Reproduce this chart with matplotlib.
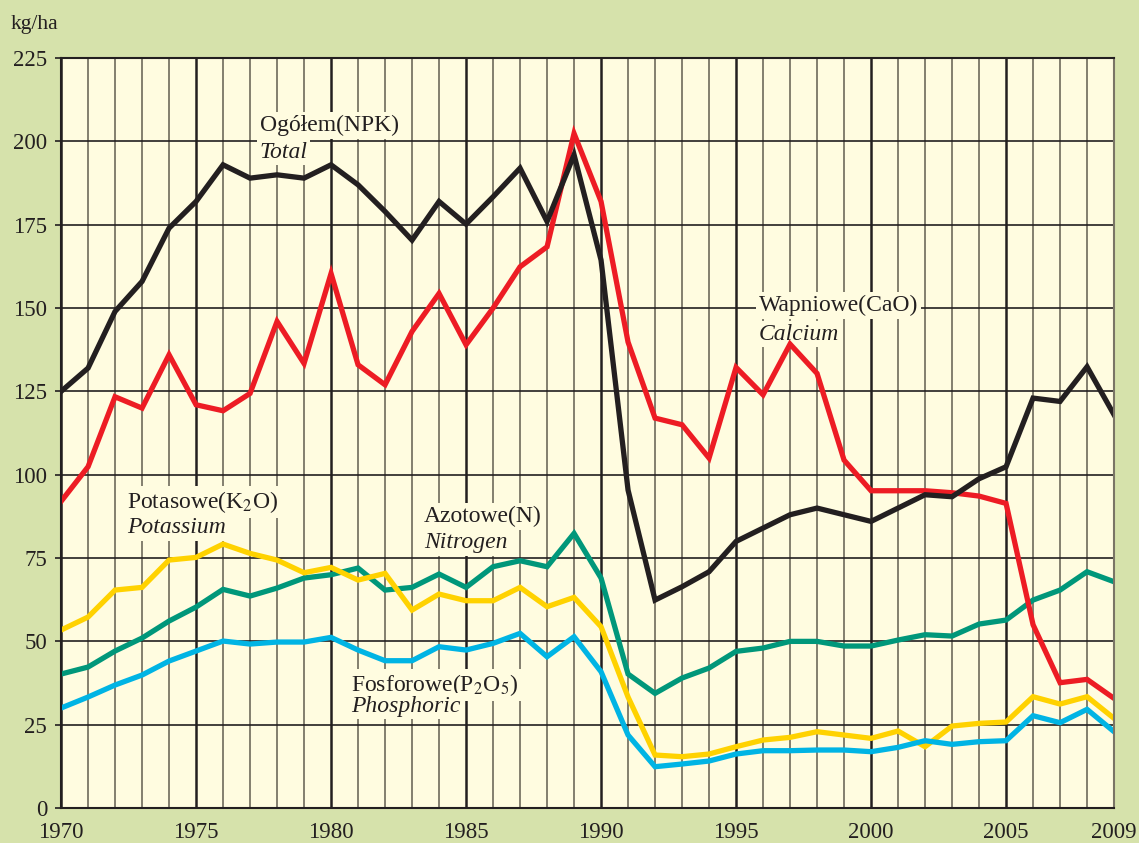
import numpy as np
import matplotlib
matplotlib.use('Agg')
import matplotlib.pyplot as plt

plt.rcParams['font.family'] = ['Liberation Serif', 'DejaVu Serif']
plt.rcParams['mathtext.fontset'] = 'stix'

years = list(range(1970, 2010))

total_npk = [125, 132, 149, 158, 174, 182, 193, 189, 190, 189,
             193, 187, 179, 170.4, 182, 175.2, 183.4, 192, 176, 196,
             164.4, 95.4, 62.4, 66.4, 70.9, 80, 84, 88, 90, 88,
             86, 90, 94, 93.4, 98.8, 102.4, 123, 122, 132.4, 118]

calcium = [92, 102.4, 123.4, 120, 136, 121, 119.2, 124.4, 146, 133.4,
           160.4, 133, 127, 143, 154.4, 139, 150, 162.4, 168.4, 202.4,
           182, 139.8, 117, 115, 105, 132.2, 124, 139.2, 130.4, 104.4,
           95.2, 95.2, 95.2, 94.6, 93.6, 91.4, 55, 37.6, 38.6, 32.9]

nitrogen = [40.2, 42.3, 47.1, 51, 56.1, 60.3, 65.6, 63.6, 66, 69,
            70, 72, 65.4, 66.2, 70.2, 66.2, 72.4, 74.2, 72.4, 82.4,
            69, 40.2, 34.4, 39, 42, 47, 48, 50, 50, 48.6,
            48.6, 50.4, 52, 51.6, 55.2, 56.4, 62.4, 65.4, 70.9, 67.9]

potassium = [53.4, 57.3, 65.4, 66.2, 74.4, 75.2, 79.2, 76.4, 74.4, 70.6,
             72.2, 68.4, 70.4, 59.4, 64.2, 62.2, 62.2, 66.2, 60.4, 63.2,
             54.4, 33.3, 15.9, 15.4, 16.2, 18.4, 20.4, 21.2, 22.9, 21.9,
             20.9, 23.1, 18.4, 24.6, 25.4, 25.8, 33.4, 31.2, 33.4, 26.9]

phosphoric = [30, 33.3, 36.9, 39.9, 44.1, 47.1, 50.1, 49.2, 49.8, 49.8,
              51.2, 47.4, 44.2, 44.2, 48.4, 47.4, 49.4, 52.4, 45.4, 51.4,
              40.9, 21.9, 12.4, 13.2, 14.1, 16.2, 17.2, 17.2, 17.4, 17.4,
              16.9, 18.2, 20.2, 19.1, 19.9, 20.2, 27.7, 25.6, 29.6, 22.9]

series = [
    (nitrogen, '#00977a'),
    (potassium, '#ffd200'),
    (phosphoric, '#00b4e4'),
    (calcium, '#ed1c24'),
    (total_npk, '#231f20'),
]

labels = [
    ('Ogółem(NPK)', 'Total', 1977.35, 204.8, 196.8),
    ('Wapniowe(CaO)', 'Calcium', 1995.85, 150.8, 142.2),
    ('Potasowe(K$_2$O)', 'Potassium', 1972.45, 91.8, 84.2),
    ('Azotowe(N)', 'Nitrogen', 1983.45, 87.4, 79.6),
    ('Fosforowe(P$_2$O$_5$)', 'Phosphoric', 1980.75, 37.0, 30.6),
]

bg = '#d6e2ab'
plot_bg = '#fffce0'

fig = plt.figure(figsize=(11.39, 8.43), dpi=100, facecolor=bg)
ax = fig.add_axes([0.0536, 0.0415, 0.9245, 0.8895])
ax.set_facecolor(plot_bg)
ax.set_xlim(1970, 2009)
ax.set_ylim(0, 225)

# grid: every year, heavier each 5 years
for yr in years:
    if yr % 5 == 0:
        ax.axvline(yr, color='#231f20', lw=1.8, zorder=1)
    else:
        ax.axvline(yr, color='#7a7566', lw=1.3, zorder=1)
for v in range(25, 225, 25):
    ax.axhline(v, color='#231f20', lw=1.2, zorder=1)

for vals, col in series:
    ax.plot(years, vals, color=col, lw=3.8, solid_joinstyle='miter', zorder=3)

for name, eng, x, y1, y2 in labels:
    box = dict(facecolor=plot_bg, edgecolor='none', pad=2)
    ax.text(x, y1, name, fontsize=17, color='#231f20', va='center', ha='left',
            bbox=box, zorder=2)
    ax.text(x, y2, eng, fontsize=17, style='italic', color='#231f20',
            va='center', ha='left', bbox=box, zorder=2)

for s in ax.spines.values():
    s.set_color('#231f20')
    s.set_linewidth(1.5)
    s.set_zorder(4)
ax.spines['right'].set_color('#7a7566')

ax.set_yticks(range(0, 226, 25))
ax.set_xticks([1970, 1975, 1980, 1985, 1990, 1995, 2000, 2005, 2009])
ax.tick_params(axis='y', length=4, width=1.2, color='#231f20', labelsize=16.5,
               labelcolor='#231f20', pad=6)
ax.tick_params(axis='x', length=0, labelsize=16.5, labelcolor='#231f20', pad=10)

fig.text(0.009, 1 - 25 / 843, 'kg/ha', fontsize=15.5, color='#231f20', va='center', ha='left')

fig.savefig('out.png', dpi=100, facecolor=bg)
